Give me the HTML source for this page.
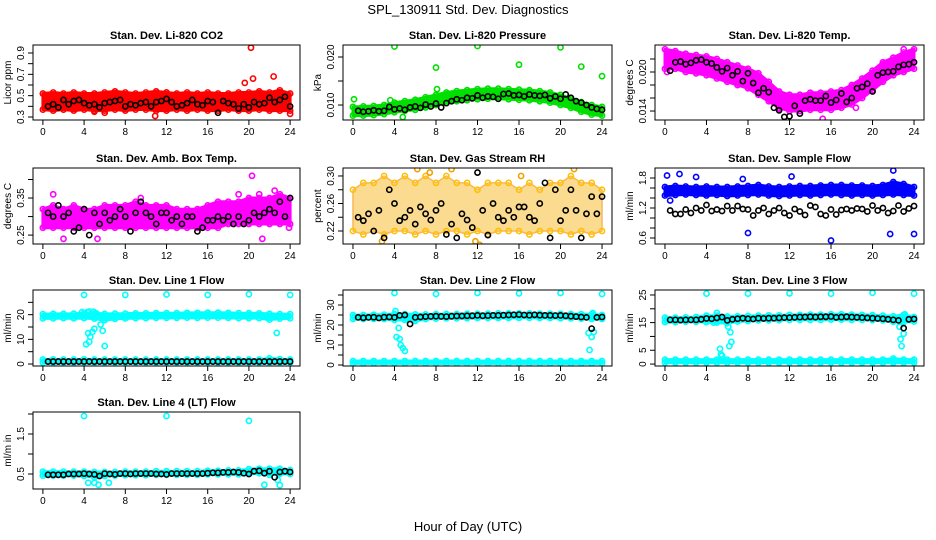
<!DOCTYPE html>
<html><head><meta charset="utf-8"><style>
html,body{margin:0;padding:0;background:#fff;}
svg{display:block;font-family:"Liberation Sans",sans-serif;}
</style></head><body>
<svg id="chart" width="936" height="540" viewBox="0 0 936 540">
<rect width="936" height="540" fill="#fff"/>
<text x="468" y="14" text-anchor="middle" font-size="13">SPL_130911  Std. Dev. Diagnostics</text>
<text x="468" y="531" text-anchor="middle" font-size="13">Hour of Day (UTC)</text>
</svg>
<script>
// Shared x data
const H = [0,1,2,3,4,5,6,7,8,9,10,11,12,13,14,15,16,17,18,19,20,21,22,23,24];
const BH = [0.5,1,1.5,2,2.5,3,3.5,4,4.5,5,5.5,6,6.5,7,7.5,8,8.5,9,9.5,10,10.5,11,11.5,12,12.5,13,13.5,14,14.5,15,15.5,16,16.5,17,17.5,18,18.5,19,19.5,20,20.5,21,21.5,22,22.5,23,23.5,24];
const xTicks = [0,4,8,12,16,20,24];

// CO2
const co2Lo = [0.37,0.36,0.37,0.36,0.37,0.36,0.36,0.37,0.36,0.37,0.37,0.36,0.36,0.37,0.36,0.37,0.36,0.36,0.37,0.36,0.36,0.37,0.36,0.36,0.36];
const co2Hi = [0.52,0.53,0.52,0.53,0.52,0.52,0.53,0.54,0.53,0.52,0.53,0.54,0.53,0.52,0.53,0.52,0.53,0.52,0.52,0.53,0.53,0.54,0.53,0.55,0.52];
const co2Black = [0.40,0.42,0.39,0.46,0.42,0.45,0.46,0.43,0.41,0.42,0.39,0.43,0.44,0.45,0.46,0.40,0.42,0.41,0.43,0.44,0.40,0.44,0.45,0.47,0.44,0.40,0.41,0.43,0.46,0.42,0.41,0.45,0.44,0.34,0.45,0.43,0.42,0.38,0.42,0.39,0.44,0.42,0.43,0.48,0.44,0.46,0.49,0.40];
const co2OutX = [20.2,20.4,22.4,19.6,10.9,24,5,6,12];
const co2OutY = [0.95,0.66,0.68,0.62,0.31,0.33,0.35,0.34,0.53];

// Pressure
const presLo = [0.0078,0.0078,0.0079,0.0081,0.0085,0.0088,0.0090,0.0095,0.0100,0.0105,0.0108,0.0110,0.0112,0.0113,0.0113,0.0112,0.0111,0.0110,0.0108,0.0105,0.0100,0.0094,0.0086,0.0080,0.0078];
const presHi = [0.0096,0.0097,0.0098,0.0100,0.0105,0.0108,0.0111,0.0116,0.0121,0.0126,0.0129,0.0131,0.0133,0.0134,0.0134,0.0133,0.0132,0.0131,0.0129,0.0126,0.0121,0.0114,0.0106,0.0100,0.0096];
const presBlack = [0.0088,0.0086,0.0087,0.0089,0.0087,0.0088,0.0096,0.0091,0.0093,0.0090,0.0095,0.0097,0.0094,0.0101,0.0097,0.0103,0.0095,0.0104,0.0108,0.0112,0.0110,0.0115,0.0114,0.0120,0.0115,0.0118,0.0117,0.0113,0.0123,0.0124,0.0120,0.0121,0.0118,0.0122,0.0120,0.0119,0.0121,0.0114,0.0118,0.0113,0.0122,0.0115,0.0108,0.0105,0.0100,0.0095,0.0092,0.0090];
const presOutX = [0.1,4,8,12,16,20,22,24,8.1,4.8,3.6];
const presOutY = [0.0112,0.0222,0.0178,0.0223,0.0184,0.0220,0.0180,0.0160,0.0133,0.0075,0.0110];

// Li-820 Temp
const tmpLo = [0.0205,0.0205,0.0200,0.0198,0.0195,0.0190,0.0185,0.0180,0.0175,0.0165,0.0155,0.0145,0.0140,0.0140,0.0142,0.0142,0.0142,0.0145,0.0150,0.0160,0.0172,0.0185,0.0195,0.0200,0.0205];
const tmpHi = [0.0235,0.0232,0.0228,0.0226,0.0224,0.0220,0.0215,0.0210,0.0205,0.0198,0.0185,0.0170,0.0165,0.0165,0.0168,0.0168,0.0170,0.0172,0.0180,0.0190,0.0202,0.0215,0.0222,0.0230,0.0235];
const tmpBlack = [0.0202,0.0215,0.0216,0.0212,0.0214,0.0218,0.0219,0.0215,0.0213,0.0207,0.0201,0.0206,0.0195,0.0201,0.0186,0.0198,0.0183,0.0168,0.0175,0.0169,0.0145,0.0141,0.0131,0.0132,0.0148,0.0136,0.0156,0.0158,0.0156,0.0156,0.0163,0.0153,0.0157,0.0167,0.0154,0.0160,0.0175,0.0177,0.0182,0.0170,0.0195,0.0199,0.0200,0.0201,0.0208,0.0211,0.0212,0.0215];
const tmpOutX = [15.2,11,18.4,0.2,23,7];
const tmpOutY = [0.0128,0.0143,0.0145,0.0200,0.0235,0.0180];

// Amb box temp
const ambLo = [0.27,0.27,0.27,0.27,0.27,0.27,0.27,0.27,0.27,0.27,0.27,0.27,0.27,0.27,0.27,0.27,0.27,0.27,0.28,0.28,0.28,0.28,0.28,0.28,0.28];
const ambHi = [0.32,0.33,0.32,0.33,0.32,0.32,0.33,0.33,0.33,0.34,0.33,0.33,0.33,0.32,0.32,0.32,0.33,0.34,0.34,0.34,0.35,0.35,0.35,0.36,0.35];
const ambBlack = [0.31,0.30,0.33,0.30,0.31,0.26,0.27,0.32,0.25,0.31,0.28,0.31,0.29,0.30,0.32,0.30,0.26,0.31,0.34,0.31,0.30,0.28,0.31,0.31,0.29,0.30,0.28,0.30,0.30,0.26,0.27,0.29,0.29,0.30,0.29,0.30,0.28,0.30,0.28,0.29,0.31,0.30,0.31,0.32,0.31,0.34,0.30,0.35];
const ambOutX = [20.3,21,22.5,19,1,2,5.3,21.3,23.9,9.5];
const ambOutY = [0.41,0.36,0.37,0.36,0.36,0.24,0.24,0.24,0.27,0.35];

// Gas stream RH
const rhLo = [0.22,0.215,0.22,0.215,0.22,0.22,0.215,0.22,0.215,0.22,0.22,0.215,0.22,0.215,0.22,0.22,0.22,0.215,0.22,0.22,0.22,0.215,0.22,0.215,0.22];
const rhHi = [0.28,0.29,0.29,0.30,0.29,0.30,0.29,0.30,0.29,0.30,0.29,0.29,0.28,0.29,0.29,0.29,0.28,0.29,0.28,0.29,0.29,0.30,0.29,0.29,0.28];
const rhBlack = [0.24,0.235,0.245,0.22,0.25,0.21,0.28,0.26,0.235,0.24,0.25,0.23,0.255,0.245,0.236,0.25,0.26,0.215,0.23,0.21,0.245,0.236,0.225,0.305,0.25,0.214,0.26,0.24,0.235,0.25,0.24,0.255,0.255,0.24,0.235,0.26,0.29,0.21,0.28,0.235,0.25,0.28,0.25,0.21,0.245,0.27,0.245,0.27];
const rhOutX = [9.5,6.2,7.4,12.2,21.3,2.8,11.8,16.2];
const rhOutY = [0.31,0.31,0.305,0.20,0.31,0.205,0.205,0.30];

// Sample flow
const smpLo = [1.45,1.46,1.47,1.46,1.45,1.46,1.44,1.45,1.46,1.47,1.45,1.44,1.45,1.46,1.45,1.46,1.47,1.46,1.45,1.46,1.45,1.46,1.47,1.46,1.45];
const smpHi = [1.62,1.64,1.63,1.62,1.63,1.62,1.62,1.63,1.64,1.66,1.63,1.62,1.63,1.64,1.64,1.65,1.66,1.66,1.65,1.65,1.64,1.66,1.72,1.68,1.62];
const smpBlack = [1.15,1.08,1.08,1.17,1.10,1.20,1.15,1.26,1.14,1.17,1.14,1.24,1.15,1.24,1.18,1.17,1.05,1.15,1.20,1.08,1.15,1.20,1.10,1.05,1.18,1.13,1.06,1.25,1.22,1.08,1.05,1.17,1.07,1.16,1.18,1.15,1.19,1.18,1.13,1.25,1.15,1.20,1.10,1.14,1.25,1.13,1.19,1.24];
const smpOutX = [0.2,1.4,3,8,16,21.7,24,22,12.2,7.5,0.5];
const smpOutY = [1.85,1.88,1.82,0.70,0.55,0.68,0.68,1.95,1.83,1.78,1.35];

// Line 1 flow
const l1Lo = [18.5,18.5,18.6,18.5,18.6,18.4,17.8,18.3,18.5,18.6,18.6,18.7,18.7,18.7,18.8,18.7,18.8,18.8,18.7,18.6,18.6,18.6,18.0,18.4,18.5];
const l1Hi = [20.2,20.3,20.3,20.4,20.6,20.5,20.3,20.4,20.4,20.5,20.5,20.6,20.6,20.6,20.7,20.7,20.8,20.8,20.7,20.6,20.6,20.5,20.3,20.2,20.2];
const l1Lo2 = [0.6,0.6,0.6,0.6,0.6,0.6,0.6,0.6,0.6,0.6,0.6,0.6,0.6,0.6,0.6,0.6,0.6,0.6,0.6,0.6,0.6,0.6,0.6,0.6,0.6];
const l1Hi2 = [1.8,1.9,1.8,1.8,1.9,1.8,1.8,1.8,1.8,1.8,1.8,1.8,1.8,1.8,1.8,1.8,1.8,1.8,1.8,1.8,1.8,1.8,2.3,2.0,1.8];
const l1Black = [1.0,1.0,1.0,1.0,1.0,1.0,1.0,1.0,1.0,1.0,1.0,1.0,1.0,1.0,1.0,1.0,1.0,1.0,1.0,1.0,1.0,1.0,1.0,1.0,1.0,1.0,1.0,1.0,1.0,1.0,1.0,1.0,1.0,1.0,1.0,1.0,1.0,1.0,1.0,1.0,1.0,1.0,1.0,1.0,1.0,1.0,1.0,1.0];
const l1OutX = [4,8,12,16,20,24,4.2,4.4,4.6,4.8,4.5,5,5.2,5.6,5.8,6,4.3,22.7,4.9,3.8,4.5];
const l1OutY = [28,28,28.2,28,28.3,28,8,12.5,11,13,9,14.3,20.5,16,13.5,7.3,21,12.6,21.2,21,21.3];

// Line 2 flow
const l2Lo = [23.0,23.0,23.1,23.0,22.5,22.5,22.0,23.0,23.2,23.3,23.3,23.4,23.5,23.5,23.5,23.5,23.6,23.6,23.5,23.5,23.4,23.3,23.2,23.0,23.0];
const l2Hi = [25.0,25.0,25.1,25.2,25.5,25.4,25.3,25.3,25.4,25.5,25.5,25.6,25.6,25.7,25.8,25.8,25.8,25.8,25.7,25.7,25.6,25.5,25.4,25.3,25.0];
const l2Lo2 = [0.8,0.8,0.8,0.8,0.8,0.8,0.8,0.8,0.8,0.8,0.8,0.8,0.8,0.8,0.8,0.8,0.8,0.8,0.8,0.8,0.8,0.8,0.8,0.8,0.8];
const l2Hi2 = [2.0,2.0,2.0,2.0,2.0,2.0,2.0,2.0,2.0,2.0,2.0,2.0,2.0,2.0,2.0,2.0,2.0,2.0,2.0,2.0,2.0,2.0,2.0,2.0,2.0];
const l2Black = [23.8,23.6,23.8,23.9,23.5,23.9,24.0,23.8,24.8,25.0,20.5,23.8,24.0,24.2,24.3,24.4,24.3,24.2,24.4,24.5,24.5,24.6,24.6,24.8,24.6,24.7,24.8,24.8,24.9,25.0,25.1,25.2,25.0,24.9,25.1,24.9,24.8,24.8,24.7,24.8,24.6,24.4,24.2,24.0,23.8,18.2,23.8,24.0];
const l2OutX = [4,8,12,16,20,24,4.2,4.6,4.8,5.0,4.4,4.5,22.7,22.8,23.0,23.2,4.1,23.1];
const l2OutY = [36,35.5,36,35.8,36,35.5,14,10,8.5,7,18.5,13,16,7.5,14,16.5,27,26];

// Line 3 flow
const l3Lo = [15.2,15.2,15.3,15.3,15.2,15.0,14.8,15.4,15.6,15.8,15.8,15.9,16.0,16.0,16.0,16.0,16.1,16.1,16.0,16.0,15.9,15.8,15.3,15.2,15.4];
const l3Hi = [16.8,16.8,16.9,17.0,17.5,17.5,17.2,17.3,17.4,17.5,17.6,17.6,17.8,17.8,17.9,17.9,18.0,18.0,17.9,17.8,17.7,17.5,17.3,17.8,17.0];
const l3Lo2 = [0.5,0.5,0.5,0.5,0.5,0.5,0.5,0.5,0.5,0.5,0.5,0.5,0.5,0.5,0.5,0.5,0.5,0.5,0.5,0.5,0.5,0.5,0.5,0.5,0.5];
const l3Hi2 = [1.6,1.6,1.6,1.6,1.6,1.6,1.6,1.6,1.6,1.6,1.6,1.6,1.6,1.6,1.6,1.6,1.6,1.6,1.6,1.6,1.6,1.6,2.0,1.6,1.6];
const l3Black = [16.0,16.0,15.9,16.0,16.0,16.0,16.2,16.5,16.4,16.7,17.0,15.8,16.2,16.4,16.6,16.4,16.3,16.6,16.5,16.6,16.6,16.7,16.8,16.8,16.9,17.0,17.0,17.1,17.0,17.1,17.1,17.2,16.9,17.0,17.1,17.0,16.9,16.8,16.7,16.6,16.5,16.4,16.2,16.0,15.8,13.0,16.2,16.3];
const l3OutX = [4,8,12,16,20,24,5.3,5.4,5.5,5.0,6.1,6.2,6.3,6.4,22.6,22.7,22.8,23.0,4.7,23.1];
const l3OutY = [25.5,25.5,25.6,25.5,25.8,25.5,5.5,3.5,3,18.5,13.5,6.5,11.5,8,13.5,9,6.5,11,15,18];

// Line 4 (LT) flow
const l4Lo = [0.46,0.46,0.46,0.46,0.45,0.42,0.45,0.46,0.47,0.47,0.47,0.48,0.48,0.48,0.48,0.48,0.49,0.49,0.49,0.49,0.50,0.52,0.48,0.50,0.50];
const l4Hi = [0.56,0.56,0.56,0.56,0.56,0.55,0.55,0.55,0.56,0.56,0.56,0.57,0.57,0.57,0.57,0.57,0.58,0.58,0.59,0.59,0.62,0.63,0.63,0.63,0.60];
const l4Black = [0.48,0.48,0.48,0.48,0.50,0.50,0.50,0.51,0.50,0.49,0.45,0.51,0.50,0.49,0.51,0.51,0.50,0.51,0.51,0.51,0.51,0.50,0.50,0.49,0.51,0.51,0.51,0.51,0.51,0.51,0.51,0.52,0.53,0.53,0.54,0.54,0.55,0.54,0.52,0.50,0.57,0.58,0.52,0.57,0.42,0.55,0.57,0.55];
const l4OutX = [4,12,20,4.4,5,5.4,6.4,21.5,22.8,23];
const l4OutY = [1.95,1.95,1.83,0.28,0.28,0.23,0.28,0.23,0.35,0.22];

const svg = document.getElementById('chart');
const NS = 'http://www.w3.org/2000/svg';
function mk(tag, attrs, parent){
  const e = document.createElementNS(NS, tag);
  for (const k in attrs) e.setAttribute(k, attrs[k]);
  parent.appendChild(e);
  return e;
}
const COLS = [[33,300],[343,612],[655,924]];
const ROWS = [[45,120],[168,244],[290,366],[412,489]];
const XMIN = -0.96, XMAX = 24.96;

const panels = [
 {n:'co2',col:0,row:0,title:'Stan. Dev. Li-820 CO2',ylab:'Licor ppm',ymin:0.272,ymax:0.975,ticks:[0.3,0.4,0.5,0.6,0.7,0.8,0.9],labels:[0.3,0.5,0.7,0.9],fmt:1,color:'#ff0000',bands:[[co2Lo,co2Hi]],black:co2Black,ox:co2OutX,oy:co2OutY},
 {n:'pressure',col:1,row:0,title:'Stan. Dev. Li-820 Pressure',ylab:'kPa',ymin:0.00688,ymax:0.0225,ticks:[0.010,0.015,0.020],labels:[0.010,0.020],fmt:3,color:'#00e000',bands:[[presLo,presHi]],black:presBlack,ox:presOutX,oy:presOutY},
 {n:'li820-temp',col:2,row:0,title:'Stan. Dev. Li-820 Temp.',ylab:'degrees C',ymin:0.01262,ymax:0.02415,ticks:[0.014,0.016,0.018,0.020,0.022],labels:[0.014,0.020],fmt:3,color:'#ff00ff',bands:[[tmpLo,tmpHi]],black:tmpBlack,ox:tmpOutX,oy:tmpOutY},
 {n:'amb-box-temp',col:0,row:1,title:'Stan. Dev. Amb. Box Temp.',ylab:'degrees C',ymin:0.226,ymax:0.431,ticks:[0.25,0.30,0.35,0.40],labels:[0.25,0.35],fmt:2,color:'#ff00ff',bands:[[ambLo,ambHi]],black:ambBlack,ox:ambOutX,oy:ambOutY},
 {n:'gas-stream-rh',col:1,row:1,title:'Stan. Dev. Gas Stream RH',ylab:'percent',ymin:0.2011,ymax:0.3116,ticks:[0.22,0.24,0.26,0.28,0.30],labels:[0.22,0.26,0.30],fmt:2,color:'#ff9a00',bands:[[rhLo,rhHi]],black:rhBlack,ox:rhOutX,oy:rhOutY,rh:true},
 {n:'sample-flow',col:2,row:1,title:'Stan. Dev. Sample Flow',ylab:'ml/min',ymin:0.48,ymax:2.0,ticks:[0.6,0.8,1.0,1.2,1.4,1.6,1.8],labels:[0.6,1.2,1.8],fmt:1,color:'#0000ff',bands:[[smpLo,smpHi]],black:smpBlack,ox:smpOutX,oy:smpOutY},
 {n:'line1-flow',col:0,row:2,title:'Stan. Dev. Line 1 Flow',ylab:'ml/min',ymin:-0.8,ymax:30,ticks:[0,5,10,15,20,25],labels:[0,10,20],fmt:0,color:'#00ffff',bands:[[l1Lo,l1Hi],[l1Lo2,l1Hi2]],black:l1Black,ox:l1OutX,oy:l1OutY},
 {n:'line2-flow',col:1,row:2,title:'Stan. Dev. Line 2 Flow',ylab:'ml/min',ymin:-0.5,ymax:37.5,ticks:[0,5,10,15,20,25,30,35],labels:[0,10,20,30],fmt:0,color:'#00ffff',bands:[[l2Lo,l2Hi],[l2Lo2,l2Hi2]],black:l2Black,ox:l2OutX,oy:l2OutY},
 {n:'line3-flow',col:2,row:2,title:'Stan. Dev. Line 3 Flow',ylab:'ml/min',ymin:-0.7,ymax:26.8,ticks:[0,5,10,15,20,25],labels:[0,5,15,25],fmt:0,color:'#00ffff',bands:[[l3Lo,l3Hi],[l3Lo2,l3Hi2]],black:l3Black,ox:l3OutX,oy:l3OutY},
 {n:'line4-flow',col:0,row:3,title:'Stan. Dev. Line 4 (LT) Flow',ylab:'ml/m in',ymin:0.125,ymax:2.05,ticks:[0.5,1.0,1.5,2.0],labels:[0.5,1.5],fmt:1,color:'#00ffff',bands:[[l4Lo,l4Hi]],black:l4Black,ox:l4OutX,oy:l4OutY}
];

panels.forEach(p=>{
  const [x0,x1] = COLS[p.col], [y0,y1] = ROWS[p.row];
  const sx = v => x0 + (v - XMIN)/(XMAX - XMIN)*(x1 - x0);
  const sy = v => y1 - (v - p.ymin)/(p.ymax - p.ymin)*(y1 - y0);
  const g = mk('g', {}, svg);
  
  
  const t = mk('text', {x:(x0+x1)/2, y:y0-6, 'text-anchor':'middle', 'font-size':11, 'font-weight':'bold'}, g);
  t.textContent = p.title;
  
  
  const cp = mk('clipPath', {id:'cp-'+p.n}, g);
  mk('rect', {x:x0, y:y0, width:x1-x0, height:y1-y0}, cp);
  const plot = mk('g', {'clip-path':'url(#cp-'+p.n+')'}, g);
  
  
  p.bands.forEach(([lo,hi],bi)=>{
    const n = Math.min(H.length, lo.length, hi.length);
    let d = '';
    for (let i=0;i<n;i++) d += (i?'L':'M') + sx(H[i]).toFixed(1) + ',' + sy(hi[i]).toFixed(1);
    for (let i=n-1;i>=0;i--) d += 'L' + sx(H[i]).toFixed(1) + ',' + sy(lo[i]).toFixed(1);
    d += 'Z';
    const band = mk('path', {d:d, fill:p.rh ? '#f9cf6a' : p.color, stroke:p.rh ? '#f7a020' : p.color, 'stroke-width':p.rh?1.5:3, 'stroke-linejoin':'round', opacity:p.rh?0.75:1}, plot);
    
    
    for (let i=0;i<n;i++){
      [lo[i],hi[i]].forEach(v=>{
        const c = mk('circle', {cx:sx(H[i]), cy:sy(v), r:2.6, fill:'none', stroke:p.rh?'#ffc000':p.color, 'stroke-width':1.6}, plot);
        
        
      });
    }
  });
  const no = Math.min(p.ox.length, p.oy.length);
  for (let i=0;i<no;i++){
    const c = mk('circle', {cx:sx(p.ox[i]), cy:sy(p.oy[i]), r:2.6, fill:'none', stroke:p.rh?'#f0a000':p.color, 'stroke-width':1.6}, plot);
    
    
  }
  const nb = Math.min(BH.length, p.black.length);
  for (let i=0;i<nb;i++){
    const c = mk('circle', {cx:sx(BH[i]), cy:sy(p.black[i]), r:2.6, fill:'none', stroke:'#000', 'stroke-width':1.6}, plot);
    
    
  }
  const fr = mk('rect', {x:x0, y:y0, width:x1-x0, height:y1-y0, fill:'none', stroke:'#000', 'stroke-width':1}, g);
  
  
  const xa = mk('g', {}, g);
  
  
  xTicks.forEach(v=>{
    mk('line', {x1:sx(v), x2:sx(v), y1:y1, y2:y1+5, stroke:'#000'}, xa);
    const tl = mk('text', {x:sx(v), y:y1+15, 'text-anchor':'middle', 'font-size':10}, xa);
    tl.textContent = v;
  });
  const ya = mk('g', {}, g);
  
  
  p.ticks.forEach(v=>{
    const y = sy(v);
    if (y < y0-0.5 || y > y1+0.5) return;
    mk('line', {x1:x0-5, x2:x0, y1:y, y2:y, stroke:'#000'}, ya);
  });
  p.labels.forEach(v=>{
    const y = sy(v);
    const tl = mk('text', {x:x0-9, y:y, 'text-anchor':'middle', 'font-size':10, transform:'rotate(-90 '+(x0-9)+' '+y+')'}, ya);
    tl.textContent = v.toFixed(p.fmt);
  });
  const yl = mk('text', {x:x0-22, y:(y0+y1)/2, 'text-anchor':'middle', 'font-size':10, transform:'rotate(-90 '+(x0-22)+' '+((y0+y1)/2)+')'}, g);
  yl.textContent = p.ylab;
  
  
});
</script>
</body></html>
